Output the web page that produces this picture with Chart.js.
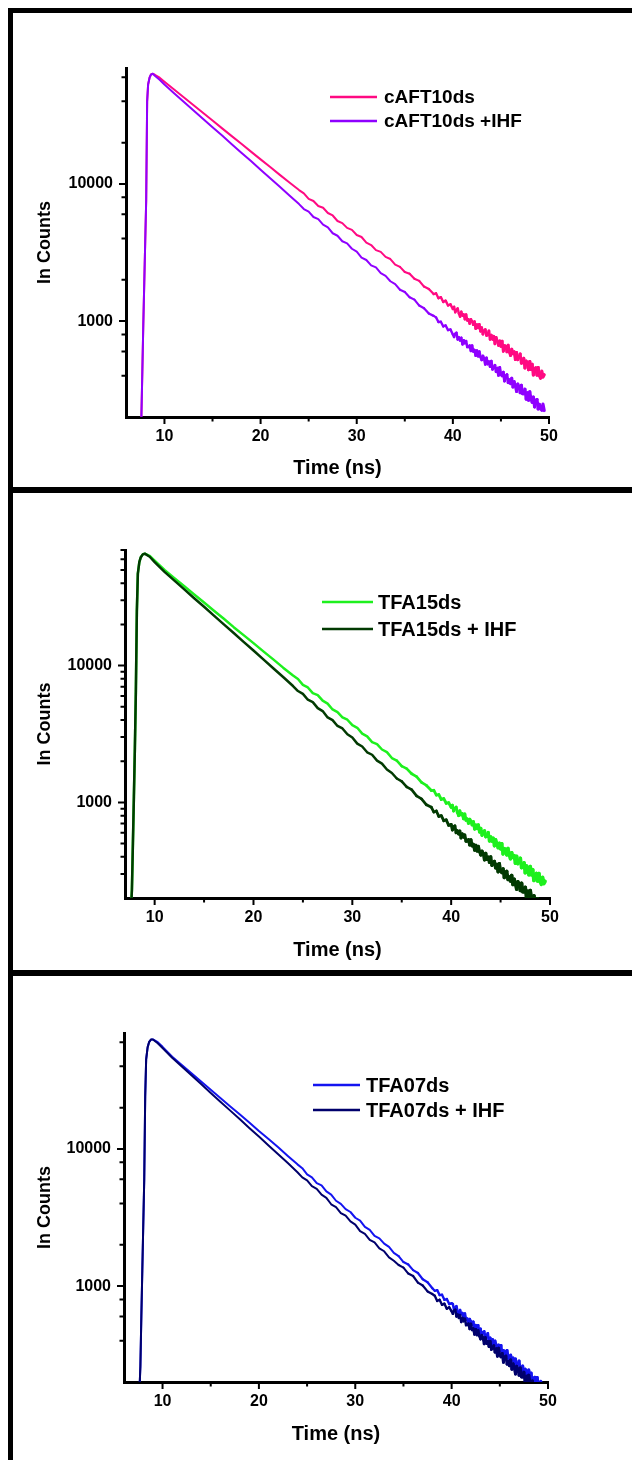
<!DOCTYPE html>
<html lang="en">
<head>
<meta charset="UTF-8">
<title>Fluorescence decays</title>
<script src="https://cdn.jsdelivr.net/npm/chart.js"></script>
<style>
  html, body { margin: 0; padding: 0; background: #fff; }
  body { width: 632px; height: 1460px; position: relative; overflow: hidden; }
  canvas { position: absolute; left: 0; }
  .bar { position: absolute; background: #000; z-index: 2; }
</style>
</head>
<body>
<div class="bar" style="left:8px; top:8px; width:5px; height:1452px"></div>
<div class="bar" style="left:8px; top:8px; width:624px; height:5px"></div>
<div class="bar" style="left:8px; top:487px; width:624px; height:6px"></div>
<div class="bar" style="left:8px; top:970px; width:624px; height:6px"></div>

<canvas id="decay1" width="632" height="472" style="top:14px"></canvas>
<canvas id="decay2" width="632" height="472" style="top:497px"></canvas>
<canvas id="decay3" width="632" height="481" style="top:979px"></canvas>

<script>
// time axis (ns) shared by every decay trace
const TIME_NS = [7.5, 7.6, 7.7, 7.8, 7.9, 8.0, 8.1, 8.2, 8.3, 8.45, 8.6, 8.8, 9.0, 9.5,
  10, 11, 12, 13, 14, 15, 16, 17, 18, 19, 20, 21, 22, 23, 24,
  24.5, 25, 25.5, 26, 26.5, 27, 27.5, 28, 28.5, 29, 29.5, 30,
  30.5, 31, 31.5, 32, 32.5, 33, 33.5, 34, 34.5, 35, 35.5, 36, 36.5, 37, 37.5, 38,
  38.25, 38.5, 38.75, 39, 39.25, 39.5, 39.75, 40,
  40.125, 40.25, 40.375, 40.5, 40.625, 40.75, 40.875, 41, 41.125, 41.25, 41.375, 41.5, 41.625, 41.75, 41.875, 42, 42.125, 42.25, 42.375,
  42.5, 42.625, 42.75, 42.875, 43, 43.125, 43.25, 43.375, 43.5, 43.625, 43.75, 43.875, 44, 44.125, 44.25, 44.375, 44.5, 44.625, 44.75,
  44.875, 45, 45.125, 45.25, 45.375, 45.5, 45.625, 45.75, 45.875, 46, 46.125, 46.25, 46.375, 46.5, 46.625, 46.75, 46.875, 47, 47.125,
  47.25, 47.375, 47.5, 47.625, 47.75, 47.875, 48, 48.125, 48.25, 48.375, 48.5, 48.625, 48.75, 48.875, 49, 49.125, 49.25, 49.375, 49.5];

// counts per channel
const CAFT10 = [150, 200, 430, 950, 1900, 3800, 7600, 40000, 53000, 59500, 62800, 63500, 62500, 59500,
  55600, 48800, 42800, 37600, 33000, 29000, 25400, 22300, 19600, 17200, 15100, 13300, 11640, 10230, 9020,
  8540, 7790, 7510, 6900, 6700, 6140, 5890, 5370, 5180, 4780, 4620, 4240,
  4105, 3735, 3585, 3290, 3195, 2940, 2835, 2580, 2485, 2280, 2215, 2035, 1965, 1785, 1715, 1575,
  1595, 1470, 1495, 1380, 1410, 1300, 1325, 1225,
  1270, 1160, 1208, 1237, 1137, 1079, 1170, 1097, 1118, 1031, 1116, 1011, 1031, 960, 1030, 995, 941, 993, 880,
  944, 892, 948, 843, 898, 803, 851, 868, 786, 793, 848, 737, 790, 737, 775, 684, 760, 714, 665,
  717, 654, 715, 603, 662, 656, 597, 667, 596, 562, 624, 578, 597, 525, 590, 524, 547, 576, 494,
  499, 535, 455, 511, 496, 443, 508, 444, 484, 405, 446, 456, 404, 458, 402, 383, 432, 391, 407];
const CAFT10_IHF = [150, 200, 430, 950, 1900, 3800, 7600, 40000, 53000, 59500, 62800, 63500, 61500, 57500,
  53000, 45900, 39800, 34500, 29900, 25900, 22500, 19500, 16900, 14700, 12700, 11000, 9550, 8240, 7130,
  6560, 6290, 5740, 5540, 5050, 4820, 4370, 4190, 3820, 3690, 3370, 3210,
  2905, 2790, 2550, 2465, 2240, 2140, 1953, 1858, 1693, 1631, 1493, 1434, 1298, 1240, 1135, 1092,
  1065, 985, 990, 915, 930, 860, 870, 800,
  766, 809, 822, 735, 761, 722, 757, 677, 725, 690, 715, 647, 648, 663, 607, 664, 600, 616, 559,
  610, 554, 600, 549, 521, 557, 535, 483, 539, 487, 506, 466, 510, 445, 459, 476, 428, 454, 402,
  460, 408, 399, 424, 366, 398, 407, 356, 374, 350, 384, 331, 362, 336, 307, 348, 334, 301, 341,
  296, 296, 319, 270, 300, 265, 305, 271, 256, 279, 237, 264, 268, 229, 247, 229, 224, 248, 223];

const TFA15 = [120, 160, 230, 500, 1100, 2500, 6500, 25000, 47000, 57000, 62000, 65000, 65800, 63500,
  58500, 50000, 43600, 38000, 33100, 28900, 25200, 22000, 19100, 16700, 14600, 12700, 11100, 9660, 8460,
  7980, 7230, 6920, 6300, 6090, 5540, 5270, 4780, 4570, 4190, 4020, 3670,
  3510, 3180, 3035, 2760, 2665, 2435, 2330, 2110, 2020, 1840, 1765, 1620, 1545, 1400, 1330, 1220,
  1225, 1130, 1140, 1050, 1065, 985, 995, 920,
  952, 867, 902, 922, 846, 801, 867, 812, 826, 760, 821, 742, 756, 703, 752, 726, 685, 722, 638,
  683, 644, 684, 607, 645, 575, 609, 620, 561, 565, 602, 522, 559, 521, 547, 482, 534, 501, 466,
  502, 457, 499, 420, 459, 454, 413, 460, 411, 387, 429, 396, 408, 359, 403, 357, 371, 390, 334,
  337, 361, 306, 343, 333, 296, 339, 296, 322, 269, 295, 302, 267, 302, 265, 252, 283, 255, 265];
const TFA15_IHF = [120, 160, 230, 500, 1100, 2500, 6500, 25000, 47000, 57000, 62000, 65000, 65800, 62500,
  57000, 48400, 41800, 36100, 31100, 26900, 23200, 20000, 17300, 14900, 12900, 11100, 9570, 8260, 7090,
  6520, 6210, 5630, 5410, 4890, 4650, 4180, 3990, 3620, 3470, 3150, 2980,
  2690, 2560, 2325, 2230, 2020, 1920, 1740, 1640, 1495, 1425, 1300, 1240, 1115, 1060, 960, 920,
  850, 865, 790, 800, 735, 745, 680, 690,
  629, 663, 673, 601, 621, 589, 617, 550, 588, 558, 578, 521, 522, 534, 488, 532, 481, 493, 447,
  486, 441, 476, 436, 412, 440, 422, 380, 424, 383, 397, 365, 399, 347, 358, 370, 332, 352, 311,
  356, 315, 307, 326, 282, 305, 313, 273, 285, 266, 292, 251, 274, 254, 232, 263, 252, 227, 256,
  222, 222, 239, 201, 224, 197, 227, 201, 190, 207, 175, 194, 197, 169, 182, 168, 164, 181, 163];

const TFA07 = [130, 170, 260, 600, 1300, 2800, 6000, 24000, 45000, 55000, 60000, 62800, 62800, 60000,
  55500, 47000, 40900, 35600, 31000, 27000, 23500, 20500, 17900, 15600, 13500, 11800, 10300, 8890, 7720,
  7240, 6520, 6210, 5630, 5420, 4900, 4650, 4190, 3980, 3640, 3470, 3150,
  3005, 2703, 2570, 2325, 2230, 2040, 1930, 1745, 1655, 1498, 1438, 1309, 1247, 1123, 1068, 966,
  925, 935, 860, 865, 795, 805, 740, 750,
  740, 673, 699, 714, 654, 619, 669, 626, 636, 585, 631, 569, 579, 538, 575, 554, 523, 550, 485,
  519, 489, 518, 460, 488, 434, 459, 467, 422, 425, 452, 392, 419, 389, 408, 360, 398, 373, 347,
  372, 339, 369, 311, 339, 335, 304, 339, 303, 284, 314, 290, 299, 262, 294, 261, 271, 284, 243,
  244, 261, 222, 248, 240, 213, 244, 213, 232, 193, 212, 216, 191, 215, 189, 179, 202, 181, 188];
const TFA07_IHF = [130, 170, 260, 600, 1300, 2800, 6000, 24000, 45000, 55000, 60000, 62800, 62800, 59000,
  54500, 46200, 39900, 34400, 29700, 25600, 22100, 19100, 16500, 14200, 12300, 10600, 9160, 7890, 6760,
  6210, 5900, 5350, 5120, 4640, 4400, 3950, 3770, 3410, 3260, 2960, 2810,
  2515, 2400, 2175, 2085, 1885, 1795, 1620, 1530, 1425, 1365, 1235, 1185, 1060, 1010, 915, 875,
  850, 780, 795, 730, 745, 685, 700, 655,
  628, 662, 673, 601, 621, 587, 615, 548, 586, 556, 577, 520, 521, 532, 487, 530, 479, 490, 444,
  484, 440, 474, 433, 411, 438, 421, 379, 422, 381, 395, 362, 396, 345, 355, 368, 330, 350, 308,
  353, 314, 305, 323, 278, 303, 309, 270, 282, 263, 289, 248, 271, 253, 229, 260, 249, 224, 253,
  218, 218, 235, 199, 220, 195, 224, 199, 187, 203, 172, 193, 194, 166, 179, 166, 161, 178, 161];

// axis ticks
const X_LABELS = [10, 20, 30, 40, 50];
const X_MINOR = [15, 25, 35, 45];
const Y_LABELS = [1000, 10000];
const Y_MINOR_EVEN = [400, 600, 800, 2000, 4000, 6000, 8000, 20000, 40000, 60000];
const Y_MINOR_ALL = [300, 400, 500, 600, 700, 800, 900, 2000, 3000, 4000, 5000, 6000, 7000, 8000, 9000,
  20000, 30000, 40000, 50000, 60000, 70000];

const FONT = "'Liberation Sans', Arial, Helvetica, sans-serif";
Chart.defaults.font.family = FONT;
Chart.defaults.color = '#000';

// layout of the three stacked plots (canvas coordinates)
const PANELS = [
  { id: 'decay1', areaTop: 54, xBand: 69, left: 126, right: 83, xMin: 6, yMinor: Y_MINOR_EVEN,
    titleGap: 6, lineW: 2,
    traces: [['cAFT10ds', CAFT10, '#ff0a82'], ['cAFT10ds +IHF', CAFT10_IHF, '#8f00ff']],
    legend: { x0: 330, x1: 377, tx: 384, y: 83, dy: 24, size: 19 } },
  { id: 'decay2', areaTop: 53, xBand: 71, left: 125, right: 82, xMin: 7, yMinor: Y_MINOR_ALL,
    titleGap: 7, lineW: 2.5,
    traces: [['TFA15ds', TFA15, '#1ef01e'], ['TFA15ds + IHF', TFA15_IHF, '#023a02']],
    legend: { x0: 322, x1: 373, tx: 378, y: 105, dy: 27, size: 20 } },
  { id: 'decay3', areaTop: 54, xBand: 78, left: 124, right: 84, xMin: 6, yMinor: Y_MINOR_EVEN,
    titleGap: 14, lineW: 2,
    traces: [['TFA07ds', TFA07, '#1414f0'], ['TFA07ds + IHF', TFA07_IHF, '#00006c']],
    legend: { x0: 313, x1: 360, tx: 366, y: 106, dy: 25, size: 20 } }
];

// the noisy late channels read as a wider band, so the stroke grows a little there
const TAIL_START = 34;
const TAIL_SPAN = 15;
const TAIL_GAIN = 1.2;

// outward tick marks, long on labelled values, short elsewhere
const tickMarks = {
  id: 'tickMarks',
  afterDraw(chart, args, opts) {
    const { ctx, chartArea: a, scales: { x, y } } = chart;
    ctx.save();
    ctx.strokeStyle = '#000';
    ctx.lineWidth = 2;
    ctx.beginPath();
    const xTick = (v, len) => { const px = x.getPixelForValue(v); ctx.moveTo(px, a.bottom); ctx.lineTo(px, a.bottom + len); };
    const yTick = (v, len) => { const py = y.getPixelForValue(v); ctx.moveTo(a.left, py); ctx.lineTo(a.left - len, py); };
    X_LABELS.forEach(v => xTick(v, 7));
    X_MINOR.forEach(v => xTick(v, 4.5));
    Y_LABELS.forEach(v => yTick(v, 7));
    opts.yMinor.forEach(v => yTick(v, 4.5));
    ctx.stroke();
    ctx.restore();
  }
};

// legend sitting inside the plot area
const insetLegend = {
  id: 'insetLegend',
  afterDraw(chart, args, opts) {
    const ctx = chart.ctx;
    ctx.save();
    ctx.font = 'bold ' + opts.size + 'px ' + FONT;
    ctx.textBaseline = 'middle';
    chart.data.datasets.forEach((ds, i) => {
      const yy = opts.y + i * opts.dy;
      ctx.strokeStyle = ds.borderColor;
      ctx.lineWidth = 2.5;
      ctx.beginPath();
      ctx.moveTo(opts.x0, yy);
      ctx.lineTo(opts.x1, yy);
      ctx.stroke();
      ctx.fillStyle = '#000';
      ctx.fillText(ds.label, opts.tx, yy + 1);
    });
    ctx.restore();
  }
};

PANELS.forEach(p => {
  const datasets = p.traces.map(([label, counts, color], i) => ({
    label: label,
    data: TIME_NS.map((t, k) => ({ x: t, y: counts[k] })),
    borderColor: color,
    borderWidth: p.lineW,
    borderJoinStyle: 'round',
    borderCapStyle: 'round',
    pointRadius: 0,
    tension: 0,
    order: 1 - i,
    segment: {
      borderWidth: c => p.lineW + TAIL_GAIN * Math.max(0, Math.min(1, (c.p0.parsed.x - TAIL_START) / TAIL_SPAN))
    }
  }));

  new Chart(document.getElementById(p.id), {
    type: 'line',
    data: { datasets: datasets },
    options: {
      responsive: false,
      devicePixelRatio: 1,
      animation: false,
      events: [],
      layout: { padding: { top: p.areaTop, right: p.right, bottom: 0, left: 0 } },
      plugins: {
        legend: { display: false },
        tooltip: { enabled: false },
        tickMarks: { yMinor: p.yMinor },
        insetLegend: p.legend
      },
      scales: {
        x: {
          type: 'linear',
          min: p.xMin,
          max: 50,
          grid: { display: false, drawTicks: false },
          border: { display: true, color: '#000', width: 3 },
          afterBuildTicks: s => { s.ticks = X_LABELS.map(v => ({ value: v })); },
          afterFit: s => { s.height = p.xBand; },
          ticks: { padding: 10, autoSkip: false, maxRotation: 0, font: { size: 16, weight: 'bold' },
                   callback: v => String(v) },
          title: { display: true, text: 'Time (ns)', font: { size: 20, weight: 'bold' },
                   padding: { top: 0, bottom: p.titleGap } }
        },
        y: {
          type: 'logarithmic',
          min: 200,
          max: 70000,
          grid: { display: false, drawTicks: false },
          border: { display: true, color: '#000', width: 3 },
          afterBuildTicks: s => { s.ticks = Y_LABELS.map(v => ({ value: v })); },
          afterFit: s => { s.width = p.left; },
          ticks: { padding: 13, autoSkip: false, font: { size: 16, weight: 'bold' },
                   callback: v => String(v) },
          title: { display: true, text: 'In Counts', font: { size: 18, weight: 'bold' },
                   padding: { top: 34, bottom: 0 } }
        }
      }
    },
    plugins: [tickMarks, insetLegend]
  });
});
</script>
</body>
</html>
